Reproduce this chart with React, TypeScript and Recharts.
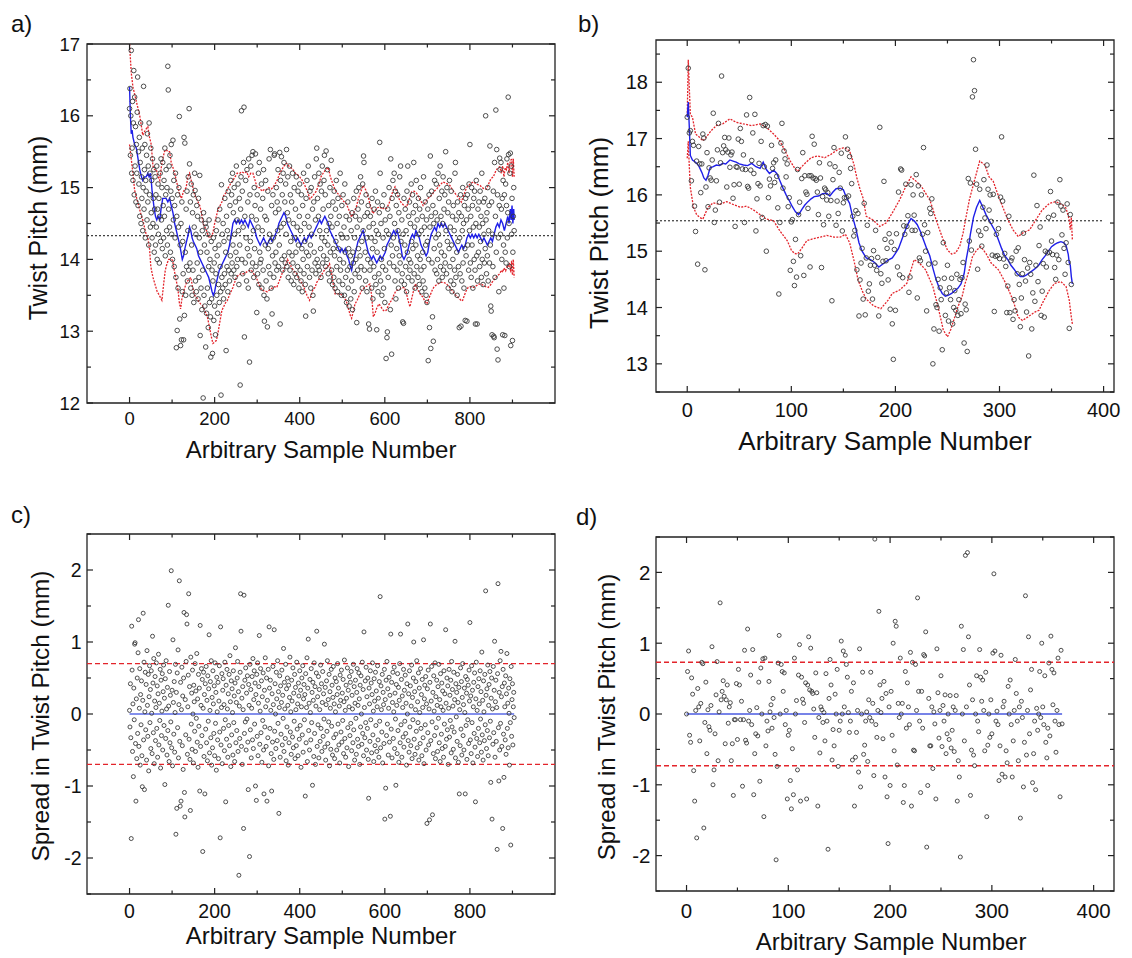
import React from "react";
import {
  ComposedChart,
  Scatter,
  Line,
  XAxis,
  YAxis,
  ReferenceLine,
  ReferenceArea,
} from "recharts";

const FONT = '"Liberation Sans", Arial, Helvetica, sans-serif';
const RED = "#e3242b";
const BLUE = "#1f1fe8";

// ---------- a) twist pitch, long run (one value per sample)
const aPitch = [
  16.1, 16.38, 15.45, 16.0, 16.91, 15.2, 15.55, 16.2, 15.1, 15.9, 16.63, 14.9, 16.26, 15.3, 15.85, 14.8, 15.6, 15.2, 16.05, 16.54,
  14.75, 15.5, 15.05, 15.7, 14.6, 15.35, 15.9, 14.5, 15.15, 14.85, 15.55, 14.4, 15.0, 16.41, 14.7, 15.25, 15.6, 14.3, 15.1, 14.95,
  15.45, 14.55, 15.75, 14.8, 15.3, 14.2, 15.9, 14.9, 15.2, 14.45, 15.55, 14.65, 15.1, 14.3, 15.4, 14.5, 14.85, 15.25, 14.1, 14.7,
  15.15, 14.2, 14.9, 14.45, 15.3, 14.0, 14.7, 15.05, 14.35, 14.85, 13.95, 14.6, 15.2, 14.25, 15.4, 14.55, 15.0, 14.15, 15.35, 14.75,
  14.3, 15.1, 14.6, 15.55, 14.05, 14.9, 15.25, 14.4, 15.0, 14.2, 16.69, 16.36, 14.7, 15.3, 14.45, 15.45, 14.1, 14.95, 15.6, 14.35,
  14.85, 14.0, 15.66, 14.55, 15.1, 13.9, 14.75, 14.3, 15.2, 13.75, 12.77, 14.6, 13.01, 14.9, 13.6, 14.45, 15.0, 15.99, 13.17, 14.2,
  12.8, 14.5, 12.88, 14.8, 13.55, 14.25, 13.8, 12.88, 15.7, 13.22, 15.62, 14.1, 13.5, 14.7, 13.9, 14.95, 13.7, 14.4, 15.15, 13.85,
  16.1, 15.33, 13.95, 14.8, 13.6, 15.05, 14.2, 13.5, 14.65, 13.85, 14.9, 13.4, 14.45, 15.2, 14.96, 13.7, 14.35, 13.55, 14.75, 13.95,
  14.6, 13.45, 14.85, 13.75, 14.3, 15.17, 12.94, 14.1, 13.6, 14.55, 13.3, 14.4, 13.85, 12.07, 14.65, 13.5, 14.2, 13.35, 14.5, 12.78,
  14.45, 13.25, 14.1, 13.6, 14.35, 13.05, 13.9, 14.55, 13.4, 14.0, 13.2, 12.64, 14.25, 13.45, 13.85, 12.69, 13.7, 14.3, 13.15, 13.95,
  13.35, 14.15, 12.95, 13.8, 14.4, 13.5, 14.05, 13.25, 14.55, 13.65, 14.2, 13.4, 14.7, 13.9, 13.55, 12.11, 15.04, 13.75, 14.35, 13.6,
  14.5, 13.45, 14.25, 13.8, 14.85, 13.65, 14.1, 12.73, 14.6, 13.9, 14.4, 13.55, 14.95, 13.85, 14.3, 13.7, 14.75, 14.05, 15.1, 13.8,
  14.9, 13.95, 15.2, 14.2, 14.65, 13.85, 15.0, 14.35, 13.75, 14.8, 14.1, 15.3, 13.9, 14.55, 14.0, 15.05, 14.4, 13.65, 14.85, 14.2,
  12.25, 14.7, 15.15, 16.07, 14.0, 14.95, 13.8, 14.45, 15.35, 16.12, 12.92, 14.6, 13.95, 15.1, 14.3, 13.7, 15.25, 14.15, 14.8, 13.6,
  15.4, 14.05, 12.57, 14.9, 14.25, 15.3, 13.85, 14.6, 15.45, 13.95, 15.5, 14.4, 13.75, 15.0, 14.15, 14.75, 15.47, 13.9, 14.55, 13.26,
  14.9, 13.8, 14.45, 15.2, 13.65, 15.35, 14.1, 13.95, 14.7, 14.0, 15.05, 13.6, 14.4, 14.85, 13.85, 15.25, 13.5, 13.14, 14.6, 14.2,
  15.1, 13.7, 14.55, 13.45, 13.06, 14.95, 14.15, 13.9, 15.4, 14.35, 13.8, 15.53, 14.25, 13.6, 14.75, 13.24, 14.05, 14.9, 14.3, 13.75,
  15.45, 15.47, 13.95, 14.65, 14.1, 15.0, 13.85, 14.8, 14.4, 15.25, 13.9, 14.7, 14.2, 15.49, 13.1, 15.1, 14.45, 15.43, 14.0, 14.9,
  13.85, 15.2, 14.5, 15.35, 14.05, 14.8, 13.95, 15.05, 14.35, 15.53, 13.9, 14.65, 15.15, 13.75, 14.55, 14.1, 15.3, 13.85, 14.9, 14.25,
  13.7, 14.8, 14.05, 15.2, 13.95, 14.5, 13.65, 15.0, 14.3, 13.8, 14.7, 14.1, 15.15, 13.75, 14.45, 13.9, 14.95, 14.2, 13.6, 14.6,
  15.05, 13.85, 14.4, 13.7, 14.9, 14.15, 13.55, 14.75, 14.0, 15.2, 13.8, 14.5, 14.25, 13.65, 13.21, 14.85, 14.1, 15.1, 13.9, 14.6,
  15.3, 14.05, 14.45, 13.75, 14.95, 14.2, 13.6, 15.0, 14.35, 13.85, 14.7, 13.5, 13.28, 14.8, 14.1, 15.15, 13.95, 14.55, 13.8, 15.4,
  15.55, 14.0, 14.85, 13.9, 14.6, 15.2, 13.85, 14.4, 15.05, 14.15, 13.75, 14.95, 14.3, 15.3, 13.95, 14.7, 14.05, 15.1, 15.45, 14.25,
  14.9, 13.9, 15.51, 14.4, 14.0, 15.25, 14.2, 13.8, 14.75, 14.5, 13.7, 15.0, 14.1, 14.6, 15.38, 13.85, 14.45, 13.65, 14.8, 14.15,
  13.75, 14.95, 14.05, 13.6, 14.7, 14.25, 15.1, 13.9, 14.5, 13.55, 14.85, 14.15, 13.7, 14.6, 14.0, 15.2, 13.85, 14.35, 13.5, 14.75,
  14.3, 13.65, 14.9, 13.95, 14.45, 13.5, 15.05, 14.1, 13.75, 14.6, 13.4, 14.3, 13.85, 14.8, 13.6, 14.15, 13.35, 14.55, 13.9, 14.05,
  13.45, 14.4, 13.7, 14.65, 13.3, 14.1, 13.95, 14.85, 13.55, 14.3, 13.8, 14.6, 14.0, 14.95, 13.12, 14.45, 13.85, 14.7, 14.15, 15.0,
  13.75, 14.55, 14.05, 15.15, 13.9, 14.8, 14.25, 13.6, 15.05, 14.4, 15.44, 15.35, 13.85, 14.6, 14.1, 13.7, 14.9, 14.3, 13.55, 14.65,
  14.0, 14.75, 13.1, 14.45, 13.03, 13.85, 14.6, 13.95, 14.3, 13.6, 14.85, 14.15, 13.45, 14.5, 13.9, 14.7, 13.75, 14.25, 14.95, 13.65,
  14.4, 13.02, 14.1, 14.8, 13.55, 14.35, 13.8, 14.65, 15.63, 15.2, 13.7, 14.5, 14.0, 13.5, 14.75, 13.9, 14.3, 13.6, 14.9, 14.15,
  13.4, 14.55, 13.85, 12.62, 14.4, 12.91, 12.99, 14.7, 13.75, 14.35, 15.0, 13.95, 14.6, 13.3, 15.4, 14.2, 12.68, 14.85, 14.05, 15.1,
  14.3, 13.9, 15.2, 14.5, 13.7, 14.95, 13.45, 14.75, 14.15, 13.85, 14.9, 14.4, 13.6, 14.65, 14.05, 15.15, 13.95, 15.3, 14.25, 13.7,
  14.55, 13.8, 13.13, 14.35, 13.11, 14.85, 13.65, 14.2, 14.7, 13.9, 14.4, 13.55, 14.95, 14.1, 15.3, 13.75, 14.6, 14.0, 14.8, 13.85,
  14.5, 13.95, 15.05, 14.25, 13.7, 14.9, 14.15, 14.65, 15.35, 13.8, 14.45, 13.6, 14.75, 14.2, 15.1, 13.9, 14.55, 14.05, 13.75, 14.85,
  14.35, 13.65, 14.7, 14.0, 15.0, 13.85, 14.4, 13.55, 14.6, 14.1, 13.7, 15.15, 13.9, 14.45, 13.6, 14.8, 14.2, 13.5, 14.55, 13.4,
  14.25, 14.7, 12.59, 14.0, 14.9, 13.05, 14.45, 15.44, 12.76, 14.6, 14.95, 13.95, 13.2, 14.75, 12.86, 14.5, 14.15, 15.1, 13.85, 14.65,
  14.3, 15.05, 13.8, 14.55, 14.0, 15.2, 14.35, 13.7, 14.85, 14.2, 15.3, 13.9, 14.6, 14.1, 14.95, 13.75, 14.5, 15.15, 13.85, 14.7,
  14.05, 14.9, 13.95, 15.5, 14.4, 13.8, 15.0, 14.25, 14.65, 13.6, 14.8, 14.15, 15.1, 13.9, 14.45, 13.7, 14.95, 14.2, 13.55, 14.6,
  14.0, 14.75, 13.65, 14.4, 13.85, 15.2, 15.35, 13.75, 14.55, 14.1, 13.5, 14.8, 14.25, 13.9, 14.65, 13.05, 14.3, 13.8, 14.9, 13.07,
  14.6, 13.7, 14.4, 15.0, 13.95, 14.5, 13.6, 14.75, 14.15, 13.15, 14.85, 14.05, 14.55, 13.14, 14.9, 14.2, 14.7, 13.85, 15.05, 14.4,
  15.6, 13.95, 14.6, 13.75, 15.0, 14.2, 14.75, 13.6, 14.45, 14.85, 14.0, 14.95, 13.85, 13.1, 14.5, 15.1, 14.05, 13.1, 13.7, 14.7,
  14.1, 14.8, 14.45, 13.9, 14.95, 14.25, 14.6, 13.75, 15.2, 14.0, 14.5, 13.65, 14.8, 14.35, 13.95, 14.85, 14.15, 16.0, 14.55, 13.8,
  14.65, 14.05, 15.0, 13.7, 14.4, 14.75, 13.95, 15.58, 14.2, 13.35, 13.28, 14.8, 12.95, 14.35, 13.9, 14.95, 12.93, 12.91, 15.35, 13.75,
  14.6, 16.08, 14.1, 15.53, 12.75, 14.9, 12.6, 14.3, 13.55, 14.75, 15.41, 15.25, 14.35, 15.35, 14.7, 14.0, 14.85, 12.95, 15.1, 14.2,
  13.6, 14.9, 12.94, 14.1, 15.05, 13.95, 14.75, 15.4, 14.3, 14.65, 16.26, 15.46, 14.5, 13.9, 15.2, 15.48, 12.8, 15.3, 14.35, 14.85,
  12.87, 14.1, 14.6, 15.0, 14.4,
];

// moving average and the band around it, [sample, pitch]
const aAverage: [number, number][] = [
  [0, 16.4], [2, 16.0], [4, 15.75], [6, 15.8], [8, 15.7], [12, 15.6], [16, 15.55], [20, 15.4], [24, 15.25], [28, 15.15],
  [31, 15.1], [35, 15.15], [39, 15.15], [43, 15.2], [46, 15.15], [49, 15.2], [51, 15.1], [53, 14.95], [55, 14.85], [58, 14.7],
  [61, 14.6], [64, 14.55], [67, 14.6], [71, 14.55], [74, 14.7], [78, 14.85], [82, 14.85], [86, 14.85], [90, 14.8], [94, 14.85],
  [98, 14.75], [102, 14.65], [106, 14.5], [110, 14.4], [114, 14.3], [118, 14.2], [121, 14.1], [124, 14.0], [127, 14.05], [130, 14.15],
  [134, 14.25], [138, 14.35], [141, 14.45], [144, 14.4], [147, 14.3], [150, 14.25], [154, 14.2], [158, 14.15], [162, 14.05], [166, 14.0],
  [170, 13.95], [174, 13.9], [178, 13.85], [182, 13.8], [186, 13.75], [190, 13.65], [194, 13.55], [197, 13.5], [200, 13.55], [203, 13.65],
  [207, 13.75], [211, 13.85], [215, 13.9], [219, 13.95], [223, 14.0], [227, 14.05], [231, 14.1], [235, 14.2], [239, 14.35], [243, 14.5],
  [247, 14.55], [251, 14.5], [255, 14.55], [259, 14.5], [263, 14.55], [267, 14.5], [271, 14.55], [275, 14.5], [279, 14.45], [283, 14.55],
  [287, 14.5], [291, 14.45], [295, 14.4], [299, 14.3], [303, 14.25], [307, 14.2], [311, 14.25], [315, 14.3], [319, 14.25], [323, 14.2],
  [327, 14.25], [331, 14.3], [335, 14.25], [339, 14.3], [343, 14.35], [347, 14.4], [351, 14.5], [355, 14.55], [359, 14.6], [363, 14.65],
  [367, 14.6], [371, 14.5], [375, 14.45], [379, 14.4], [383, 14.35], [387, 14.3], [391, 14.25], [395, 14.3], [399, 14.25], [403, 14.2],
  [407, 14.25], [411, 14.3], [415, 14.25], [419, 14.3], [423, 14.35], [427, 14.3], [431, 14.35], [435, 14.4], [439, 14.45], [443, 14.5],
  [447, 14.55], [451, 14.5], [455, 14.55], [459, 14.6], [463, 14.55], [467, 14.5], [471, 14.4], [475, 14.35], [479, 14.3], [483, 14.25],
  [487, 14.2], [491, 14.15], [495, 14.1], [499, 14.15], [503, 14.1], [507, 14.15], [511, 14.05], [515, 14.0], [519, 13.9], [522, 13.85],
  [525, 13.95], [529, 14.05], [533, 14.15], [537, 14.25], [541, 14.3], [545, 14.35], [549, 14.4], [553, 14.3], [557, 14.2], [561, 14.1],
  [565, 14.05], [569, 14.0], [573, 14.05], [577, 14.0], [581, 13.95], [585, 14.0], [589, 14.05], [593, 14.0], [597, 14.05], [601, 14.1],
  [605, 14.2], [609, 14.25], [613, 14.3], [617, 14.35], [621, 14.4], [625, 14.35], [629, 14.4], [633, 14.3], [637, 14.2], [641, 14.05],
  [645, 14.0], [649, 14.05], [653, 14.1], [657, 14.2], [661, 14.3], [665, 14.35], [669, 14.3], [673, 14.4], [677, 14.35], [681, 14.3],
  [685, 14.2], [689, 14.15], [693, 14.1], [697, 14.05], [701, 14.1], [705, 14.25], [709, 14.35], [713, 14.4], [717, 14.45], [721, 14.4],
  [725, 14.5], [729, 14.45], [733, 14.5], [737, 14.45], [741, 14.5], [745, 14.45], [749, 14.4], [753, 14.35], [757, 14.3], [761, 14.25],
  [765, 14.2], [769, 14.15], [773, 14.1], [777, 14.15], [781, 14.2], [785, 14.15], [789, 14.2], [793, 14.3], [797, 14.35], [801, 14.3],
  [805, 14.35], [809, 14.3], [813, 14.35], [817, 14.3], [821, 14.35], [825, 14.3], [829, 14.25], [833, 14.3], [837, 14.25], [841, 14.2],
  [845, 14.25], [849, 14.3], [853, 14.25], [857, 14.35], [861, 14.45], [865, 14.5], [869, 14.45], [873, 14.55], [877, 14.5], [881, 14.4],
  [885, 14.5], [889, 14.6], [892, 14.5], [895, 14.7], [897, 14.55], [899, 14.75], [901, 14.5], [903, 14.7], [904, 14.55],
];

const aUpper: [number, number][] = [
  [0, 17.0], [4, 16.6], [8, 16.4], [12, 16.3], [16, 16.2], [20, 16.1], [24, 16.0], [28, 15.85], [31, 15.73], [37, 15.8],
  [43, 15.85], [47, 15.7], [51, 15.6], [55, 15.3], [59, 15.25], [63, 15.25], [67, 15.15], [71, 15.1], [75, 15.3], [78, 15.4],
  [82, 15.5], [86, 15.53], [90, 15.5], [94, 15.5], [98, 15.35], [102, 15.28], [106, 15.2], [110, 15.1], [114, 15.0], [118, 14.9],
  [122, 14.85], [127, 14.95], [133, 15.0], [137, 15.15], [141, 15.2], [145, 15.1], [149, 15.0], [153, 14.9], [157, 14.85], [161, 14.8],
  [165, 14.75], [169, 14.65], [173, 14.5], [177, 14.45], [181, 14.4], [185, 14.33], [188, 14.3], [192, 14.32], [196, 14.37], [200, 14.5],
  [204, 14.6], [208, 14.7], [212, 14.74], [217, 14.8], [222, 14.9], [227, 14.93], [232, 15.0], [237, 15.05], [243, 15.1], [248, 15.15],
  [253, 15.2], [259, 15.2], [264, 15.22], [270, 15.2], [275, 15.22], [280, 15.15], [285, 15.2], [290, 15.2], [295, 15.1], [300, 15.0],
  [306, 15.0], [311, 14.95], [316, 14.97], [322, 14.97], [327, 15.0], [333, 14.98], [337, 15.0], [342, 15.05], [347, 15.1], [353, 15.2],
  [358, 15.25], [363, 15.3], [369, 15.34], [374, 15.3], [379, 15.28], [384, 15.25], [390, 15.2], [395, 15.18], [400, 15.15], [406, 15.1],
  [412, 15.03], [418, 14.95], [424, 14.84], [430, 14.88], [435, 14.92], [439, 14.95], [445, 15.05], [450, 15.15], [455, 15.2], [461, 15.25],
  [467, 15.28], [472, 15.15], [478, 15.05], [483, 14.97], [489, 14.92], [494, 14.89], [500, 14.83], [505, 14.8], [510, 14.77], [516, 14.68],
  [522, 14.59], [527, 14.65], [533, 14.73], [538, 14.85], [544, 14.95], [549, 15.03], [555, 14.97], [561, 14.87], [566, 14.75], [572, 14.64],
  [577, 14.68], [583, 14.72], [588, 14.73], [594, 14.7], [599, 14.72], [604, 14.71], [610, 14.78], [615, 14.88], [620, 14.97], [624, 15.01],
  [629, 14.92], [635, 14.82], [640, 14.78], [645, 14.75], [651, 14.73], [657, 14.83], [663, 14.94], [669, 14.95], [675, 14.92], [681, 14.85],
  [686, 14.8], [690, 14.75], [696, 14.8], [701, 14.85], [706, 14.87], [711, 14.9], [716, 14.95], [722, 14.98], [727, 15.02], [732, 15.05],
  [737, 15.08], [743, 15.06], [748, 15.05], [753, 15.03], [758, 14.98], [764, 14.93], [769, 14.89], [775, 14.85], [780, 14.8], [786, 14.9],
  [792, 15.0], [797, 15.03], [803, 15.06], [808, 15.08], [813, 15.06], [819, 15.04], [824, 15.03], [829, 15.0], [834, 14.98], [839, 14.98],
  [844, 15.05], [849, 15.12], [855, 15.15], [860, 15.22], [865, 15.27], [870, 15.29], [874, 15.2], [877, 15.3], [880, 15.15], [883, 15.28],
  [886, 15.25], [889, 15.35], [892, 15.2], [895, 15.38], [898, 15.39], [900, 15.15], [902, 15.4], [904, 15.15],
];

const aLower: [number, number][] = [
  [0, 15.6], [4, 15.4], [8, 15.2], [12, 14.96], [16, 14.87], [20, 14.78], [24, 14.69], [28, 14.6], [31, 14.55], [35, 14.45],
  [39, 14.35], [43, 14.3], [47, 14.15], [50, 13.9], [55, 13.75], [60, 13.65], [65, 13.55], [70, 13.5], [76, 13.43], [80, 13.65],
  [84, 13.85], [88, 13.94], [92, 14.0], [96, 14.0], [101, 13.99], [105, 13.85], [110, 13.7], [114, 13.57], [117, 13.4], [120, 13.31],
  [123, 13.45], [127, 13.55], [130, 13.61], [134, 13.68], [139, 13.72], [144, 13.75], [148, 13.62], [153, 13.5], [157, 13.48], [162, 13.42],
  [167, 13.38], [171, 13.36], [176, 13.3], [183, 13.2], [188, 13.05], [192, 12.93], [196, 12.83], [200, 12.85], [204, 12.87], [208, 12.98],
  [212, 13.12], [217, 13.29], [222, 13.35], [226, 13.4], [230, 13.43], [236, 13.52], [243, 13.61], [247, 13.68], [251, 13.75], [256, 13.78],
  [262, 13.8], [268, 13.8], [274, 13.82], [280, 13.84], [286, 13.85], [292, 13.8], [298, 13.75], [304, 13.65], [311, 13.57], [317, 13.56],
  [324, 13.55], [330, 13.58], [335, 13.6], [341, 13.62], [346, 13.61], [352, 13.7], [357, 13.78], [362, 13.85], [367, 13.93], [371, 14.0],
  [376, 13.95], [380, 13.9], [385, 13.85], [389, 13.82], [393, 13.8], [399, 13.72], [406, 13.66], [412, 13.58], [417, 13.5], [423, 13.43],
  [427, 13.5], [431, 13.58], [436, 13.61], [440, 13.68], [445, 13.72], [449, 13.77], [453, 13.8], [458, 13.85], [462, 13.88], [466, 13.9],
  [470, 13.94], [475, 13.8], [479, 13.65], [483, 13.52], [490, 13.52], [496, 13.52], [502, 13.48], [509, 13.43], [515, 13.3], [519, 13.22],
  [522, 13.18], [526, 13.28], [530, 13.38], [535, 13.43], [540, 13.5], [546, 13.57], [552, 13.61], [558, 13.63], [565, 13.66], [569, 13.5],
  [573, 13.2], [577, 13.25], [581, 13.32], [586, 13.38], [590, 13.35], [595, 13.3], [599, 13.28], [603, 13.29], [608, 13.35], [612, 13.4],
  [616, 13.43], [621, 13.5], [625, 13.55], [629, 13.57], [634, 13.58], [640, 13.6], [646, 13.61], [650, 13.55], [655, 13.42], [659, 13.34],
  [663, 13.45], [667, 13.55], [672, 13.66], [676, 13.6], [680, 13.55], [685, 13.5], [689, 13.48], [694, 13.42], [699, 13.38], [703, 13.45],
  [708, 13.52], [712, 13.58], [715, 13.61], [720, 13.64], [725, 13.66], [732, 13.68], [738, 13.68], [745, 13.66], [751, 13.62], [758, 13.57],
  [764, 13.52], [770, 13.48], [776, 13.45], [780, 13.42], [783, 13.43], [787, 13.5], [791, 13.56], [796, 13.61], [801, 13.62], [805, 13.61],
  [809, 13.61], [814, 13.63], [820, 13.65], [826, 13.66], [831, 13.64], [837, 13.62], [843, 13.61], [848, 13.64], [852, 13.68], [857, 13.72],
  [861, 13.75], [866, 13.78], [870, 13.8], [874, 13.85], [877, 13.82], [880, 13.88], [884, 13.84], [887, 13.9], [890, 13.89], [893, 13.95],
  [896, 13.82], [898, 13.98], [900, 13.78], [902, 14.0], [904, 13.75],
];

const aMean = 14.33;
const aXTicks = [0, 100, 200, 300, 400, 500, 600, 700, 800, 900];
const aYTicks = [12, 12.5, 13, 13.5, 14, 14.5, 15, 15.5, 16, 16.5, 17];

// ---------- b) twist pitch, short run
const bPitch = [
  17.38, 18.25, 17.1, 17.14, 16.25, 16.95, 16.88, 15.8, 15.35, 16.6, 14.77, 16.86, 16.55, 16.04, 16.55, 17.08, 17.01, 14.67, 16.14, 16.75,
  15.79, 16.48, 16.3, 16.26, 16.62, 17.45, 15.51, 15.73, 16.25, 16.8, 17.27, 15.87, 16.57, 18.11, 16.75, 16.87, 17.02, 16.8, 16.14, 16.76,
  17.01, 16.49, 16.71, 16.76, 15.94, 16.18, 15.44, 16.5, 16.49, 16.99, 16.19, 17.18, 16.95, 16.46, 16.71, 15.51, 16.45, 17.42, 16.15, 16.12,
  17.73, 16.44, 16.61, 17.1, 16.38, 17.43, 15.36, 15.93, 16.2, 16.56, 16.16, 16.95, 15.6, 17.23, 16.5, 17.25, 15.0, 17.22, 15.95, 16.28,
  16.16, 16.88, 16.47, 16.57, 16.22, 16.62, 16.33, 15.77, 14.24, 15.51, 16.92, 17.27, 16.12, 16.78, 16.64, 16.32, 16.55, 15.79, 15.95, 14.66,
  15.52, 15.56, 14.82, 14.39, 15.21, 14.54, 16.45, 15.65, 15.87, 14.92, 16.29, 16.75, 14.57, 16.34, 16.05, 16.01, 15.76, 16.34, 14.72, 16.34,
  17.04, 16.3, 16.9, 16.29, 16.26, 16.05, 15.65, 16.57, 16.3, 14.71, 15.97, 15.47, 16.12, 16.09, 15.91, 16.04, 15.62, 16.55, 15.9, 14.12,
  16.27, 16.84, 16.5, 15.46, 15.89, 15.67, 16.4, 16.12, 16.74, 15.36, 15.86, 15.95, 17.03, 15.95, 16.81, 15.98, 16.68, 16.47, 16.2, 15.62,
  15.27, 15.37, 15.72, 14.67, 15.67, 13.85, 14.49, 14.79, 15.05, 14.15, 15.85, 13.87, 14.88, 15.46, 14.29, 14.42, 14.75, 14.87, 14.15, 15.01,
  14.75, 15.37, 14.66, 14.89, 13.85, 17.2, 14.6, 14.43, 14.82, 16.24, 15.21, 14.83, 15.05, 14.49, 15.31, 13.97, 15.16, 13.71, 13.08, 15.03,
  13.95, 15.31, 14.72, 16.05, 14.58, 16.46, 16.44, 14.53, 15.45, 15.3, 16.19, 15.44, 15.63, 14.27, 14.54, 16.18, 15.37, 16.0, 15.64, 15.37,
  16.36, 14.17, 16.16, 14.88, 14.83, 16.0, 15.3, 16.84, 15.47, 15.0, 13.94, 15.33, 14.77, 15.76, 15.67, 15.93, 13.0, 13.62, 14.79, 14.05,
  14.0, 14.5, 13.58, 14.35, 14.14, 13.25, 15.15, 14.52, 13.86, 14.26, 14.75, 13.76, 14.35, 14.14, 14.52, 13.71, 14.0, 14.3, 13.95, 14.59,
  13.86, 14.14, 14.5, 13.89, 14.53, 14.8, 13.37, 14.06, 13.96, 13.22, 16.29, 15.18, 16.21, 15.02, 17.74, 18.4, 17.85, 16.81, 16.19, 14.68,
  15.36, 16.1, 15.28, 15.09, 15.78, 16.27, 15.59, 15.4, 16.53, 16.1, 15.73, 16.0, 15.53, 14.93, 16.01, 13.93, 14.91, 15.3, 14.92, 15.4,
  14.87, 15.96, 17.03, 15.89, 14.86, 14.96, 14.73, 13.91, 14.38, 15.62, 13.91, 14.83, 14.88, 13.79, 14.14, 13.94, 15.0, 14.6, 15.06, 14.41,
  13.66, 14.17, 14.6, 15.32, 14.85, 14.47, 13.92, 14.7, 13.14, 14.8, 14.59, 13.62, 14.26, 16.35, 14.11, 14.75, 15.81, 14.46, 15.1, 15.43,
  13.86, 14.29, 14.78, 13.83, 15.0, 14.72, 14.97, 15.6, 14.98, 16.06, 15.18, 14.94, 15.64, 14.71, 14.5, 14.93, 15.87, 14.85, 16.27, 15.8,
  15.29, 15.73, 15.05, 14.59, 15.15, 15.84, 14.8, 13.63, 15.65, 14.41,
];

const bAverage: [number, number][] = [
  [0, 17.38], [1, 17.65], [2, 17.2], [3, 16.7], [5, 16.62], [8, 16.58], [11, 16.52], [14, 16.4], [16, 16.3], [18, 16.26],
  [20, 16.35], [22, 16.48], [25, 16.5], [28, 16.53], [31, 16.52], [34, 16.56], [37, 16.55], [41, 16.62], [44, 16.6], [47, 16.58],
  [50, 16.55], [54, 16.53], [58, 16.52], [62, 16.56], [66, 16.5], [70, 16.47], [73, 16.58], [76, 16.45], [79, 16.38], [83, 16.44],
  [86, 16.38], [89, 16.25], [92, 16.12], [95, 16.0], [98, 15.9], [101, 15.79], [104, 15.7], [107, 15.65], [110, 15.74], [113, 15.82],
  [116, 15.88], [119, 15.93], [122, 15.97], [126, 15.98], [130, 16.02], [134, 16.03], [137, 15.98], [140, 16.05], [143, 16.11], [147, 16.12],
  [150, 16.09], [153, 15.95], [156, 15.85], [159, 15.6], [162, 15.4], [165, 15.15], [168, 15.0], [172, 14.88], [176, 14.85], [180, 14.8],
  [184, 14.72], [187, 14.76], [190, 14.8], [193, 14.84], [197, 14.88], [200, 14.96], [203, 15.05], [206, 15.2], [209, 15.35], [212, 15.48],
  [215, 15.58], [218, 15.54], [221, 15.47], [224, 15.35], [227, 15.2], [230, 15.05], [233, 14.92], [236, 14.7], [239, 14.5], [242, 14.35],
  [245, 14.25], [248, 14.2], [251, 14.22], [254, 14.25], [257, 14.3], [260, 14.34], [263, 14.42], [266, 14.6], [268, 14.85], [270, 15.05],
  [272, 15.3], [275, 15.6], [278, 15.78], [281, 15.9], [284, 15.78], [287, 15.65], [290, 15.55], [293, 15.45], [296, 15.35], [299, 15.2],
  [302, 15.05], [305, 14.92], [308, 14.85], [311, 14.75], [314, 14.68], [317, 14.6], [320, 14.55], [323, 14.55], [326, 14.58], [329, 14.62],
  [332, 14.66], [335, 14.7], [338, 14.76], [341, 14.85], [344, 14.92], [347, 15.0], [350, 15.08], [353, 15.12], [356, 15.15], [359, 15.17],
  [362, 15.15], [364, 15.1], [366, 14.95], [367, 14.8], [368, 14.75], [369, 14.55], [370, 14.42],
];

const bUpper: [number, number][] = [
  [0, 17.4], [1, 18.4], [2, 17.9], [3, 17.43], [5, 17.38], [8, 17.08], [12, 17.02], [15, 16.96], [18, 17.02], [23, 17.14],
  [28, 17.23], [34, 17.26], [41, 17.35], [47, 17.29], [54, 17.26], [62, 17.23], [70, 17.26], [76, 17.2], [83, 17.08], [89, 16.96],
  [94, 16.78], [99, 16.6], [103, 16.48], [106, 16.42], [109, 16.48], [112, 16.54], [119, 16.66], [125, 16.69], [132, 16.66], [138, 16.72],
  [145, 16.81], [151, 16.84], [156, 16.78], [160, 16.55], [163, 16.3], [166, 16.1], [169, 15.94], [172, 15.62], [178, 15.56], [185, 15.44],
  [191, 15.5], [198, 15.71], [204, 15.91], [210, 16.15], [215, 16.32], [220, 16.24], [225, 16.15], [229, 16.03], [233, 15.91], [236, 15.75],
  [239, 15.56], [243, 15.35], [246, 15.2], [250, 15.02], [254, 14.95], [258, 14.97], [262, 15.1], [265, 15.32], [268, 15.62], [271, 15.91],
  [276, 16.26], [281, 16.6], [286, 16.53], [290, 16.32], [294, 16.24], [298, 16.03], [303, 15.79], [308, 15.56], [313, 15.38], [318, 15.26],
  [322, 15.32], [329, 15.38], [335, 15.56], [341, 15.73], [348, 15.85], [354, 15.88], [361, 15.82], [364, 15.76], [367, 15.56], [368, 15.38],
  [369, 15.6], [370, 15.2],
];

const bLower: [number, number][] = [
  [0, 16.65], [1, 16.95], [2, 16.5], [3, 16.13], [6, 15.78], [9, 15.65], [12, 15.6], [15, 15.57], [20, 15.78], [25, 15.86],
  [31, 15.83], [38, 15.88], [44, 15.83], [51, 15.78], [57, 15.8], [63, 15.74], [70, 15.65], [76, 15.57], [83, 15.54], [89, 15.36],
  [96, 15.19], [100, 15.02], [103, 14.96], [106, 14.95], [110, 15.05], [115, 15.19], [121, 15.22], [128, 15.25], [134, 15.28], [141, 15.25],
  [147, 15.25], [152, 15.3], [156, 15.15], [160, 14.85], [164, 14.5], [168, 14.3], [172, 14.15], [179, 14.03], [186, 13.98], [193, 14.13],
  [197, 14.25], [204, 14.31], [211, 14.43], [215, 14.67], [218, 14.85], [223, 14.79], [229, 14.67], [236, 14.37], [241, 14.01], [246, 13.6],
  [250, 13.48], [253, 13.6], [257, 13.83], [260, 14.01], [264, 14.19], [267, 14.43], [271, 14.67], [274, 14.9], [278, 15.02], [282, 15.08],
  [287, 14.96], [292, 14.79], [299, 14.67], [306, 14.43], [313, 14.13], [318, 13.83], [322, 13.77], [327, 13.83], [334, 13.92], [338, 13.95],
  [341, 14.07], [348, 14.31], [353, 14.43], [359, 14.46], [364, 14.37], [367, 14.13], [369, 13.83], [370, 13.71],
];

const bMean = 15.54;
const bXTicks = [0, 50, 100, 150, 200, 250, 300, 350, 400];
const bYTicks = [12.5, 13, 13.5, 14, 14.5, 15, 15.5, 16, 16.5, 17, 17.5, 18, 18.5];

// ---------- c) spread about the moving average, long run
const cSpread = [
  0.05, -0.18, 0.42, -0.33, -1.73, 1.22, 0.61, -0.52, 0.14, -0.87, 0.36, -0.08, 0.97, 0.99, -0.41, -1.21, 0.21, -0.62, 0.5, -0.27,
  0.85, 1.31, -0.45, 0.08, 0.63, -0.71, 0.27, -0.15, 0.46, -0.58, -1.01, 0.19, 1.4, -0.36, 0.72, -1.05, 0.03, 0.58, -0.22, 0.41,
  -0.64, 0.88, 0.12, -0.31, 0.55, -0.79, 0.24, 0.67, -0.12, 0.34, -0.48, 0.6, 0.01, -0.55, 1.08, 0.43, -0.26, 0.77, -0.69, 0.18,
  0.52, -0.37, 0.09, 0.71, -0.2, 0.39, -0.6, 0.28, 0.83, -0.43, 0.15, -0.09, 0.62, -0.75, 0.47, -0.3, 0.04, 0.56, -0.5, 0.31,
  0.68, -0.16, 0.22, -0.98, 0.49, -0.34, 0.74, 0.07, -0.57, 0.37, -0.23, 1.51, 0.11, -0.66, 0.59, -0.4, 0.26, -0.11, 1.99, -0.47,
  0.33, -0.72, 1.03, 0.16, -0.28, 0.45, -0.53, 0.02, 0.69, -1.67, 0.3, -1.31, 0.57, -0.19, 0.89, -0.61, 0.13, 1.85, -0.38, -1.28,
  0.44, -1.21, 0.06, 0.65, -0.44, 0.25, -0.77, 0.5, 1.41, -1.09, -1.43, 0.2, -0.29, 0.73, 1.38, 1.25, -0.56, 0.1, 0.54, 1.67,
  -0.35, 0.38, -0.63, -1.34, 0.79, -0.14, 0.29, -0.49, 0.61, 0.0, -0.68, 0.4, 0.17, -0.24, 0.7, -0.52, 0.32, -0.06, 0.84, -0.39,
  0.21, -0.74, 0.55, -0.17, 0.36, -1.07, 1.23, -0.45, 0.12, 0.63, -0.3, 0.48, -1.91, 0.08, 0.58, -0.59, 0.27, -1.11, 0.42, -0.21,
  0.66, -0.4, 0.19, -0.65, 0.53, -0.1, 0.35, 1.1, -0.54, 0.05, 0.45, -0.33, 0.74, -0.71, 0.23, -0.47, 0.6, 0.14, -0.27, 0.39,
  -0.58, 0.71, -0.13, 0.3, -0.78, 0.51, 0.03, -0.36, 0.44, -0.62, 0.18, 0.67, -0.25, -1.72, 1.21, -0.43, 0.09, 0.56, -0.69, 0.33,
  0.49, -0.2, 0.13, -0.51, 0.72, -0.08, -1.22, 0.4, -0.35, 0.62, 0.07, -0.6, 0.28, -0.16, 0.55, -0.44, 0.81, 0.17, -0.73, 0.46,
  -0.29, 0.35, 0.02, -0.57, 0.6, -0.12, 0.25, -0.66, 0.43, 0.92, -0.4, 0.16, -0.23, 0.5, 0.73, -0.52, 0.31, -2.24, 0.11, -0.34,
  0.58, 1.67, 1.15, -0.45, 0.22, -0.7, 0.38, 0.06, -1.59, 1.65, -0.27, 0.47, -0.11, 0.64, -0.5, 0.29, -0.07, 0.53, -0.39, -1.05,
  0.41, 0.12, -1.98, 0.69, -0.22, 0.34, -0.61, 0.08, 0.52, -0.36, 0.77, -0.48, 0.2, 0.6, -0.14, 0.43, -1.0, 0.27, -1.2, 0.55,
  -0.31, 0.71, -0.58, 0.15, 0.38, 1.09, -0.42, 0.04, 0.63, -0.26, 0.46, -0.67, 0.24, -0.09, 0.57, -0.5, -1.11, 0.33, -0.18, 0.78,
  0.1, -0.45, 0.5, -1.21, 0.19, -0.33, 0.62, -0.72, 1.21, 0.36, -0.2, 0.47, 0.05, -0.55, -1.07, 0.28, -0.39, 0.66, 0.13, -0.63,
  1.17, -0.24, 0.42, 0.0, -0.48, 0.58, 0.21, -0.37, 0.74, -0.13, 0.31, -1.38, 0.09, 0.53, -0.6, 0.39, -0.28, 0.16, 0.61, -0.43,
  0.26, -0.06, 0.91, -0.52, 0.44, 0.07, -0.34, 0.69, -0.65, 0.35, -0.18, 0.5, 0.12, -0.71, 0.4, -0.4, 0.23, 0.79, -0.25, 0.03,
  -0.56, 0.47, 0.18, -0.32, 0.64, -0.47, 0.29, -0.1, 0.55, -0.62, 0.37, 0.06, -0.44, 0.72, -0.21, 0.14, -0.58, 0.43, 0.25, -0.35,
  0.6, -0.16, 0.33, -0.74, 0.1, 0.5, -0.29, 0.67, -0.53, 0.21, 0.41, -0.08, 0.27, -1.14, 0.56, -0.4, 0.09, 0.78, -0.66, 0.36,
  1.04, -0.23, 0.15, -0.5, 0.48, 0.02, -0.36, 0.63, -0.12, 0.3, -0.99, 0.44, 0.19, -0.59, 0.71, -0.27, 0.38, -0.7, 0.11, 0.57,
  1.15, -0.45, 0.24, -0.15, 0.52, -0.61, 0.34, 0.06, -0.38, 0.68, -0.2, 0.42, -0.52, 0.16, 0.59, -0.31, 0.28, -0.07, 0.97, -0.46,
  0.37, -0.64, 0.13, 0.46, -0.24, 0.74, -0.41, 0.2, -0.11, 0.55, -0.72, 0.31, 0.08, -0.49, 0.62, -0.17, 0.4, -0.57, 0.23, 0.66,
  -0.33, 0.14, -0.62, 0.5, 0.03, -0.28, 0.45, -0.5, 0.27, 0.7, -0.14, 0.36, -0.43, 0.11, -0.68, 0.54, 0.19, -0.25, 0.61, -0.39,
  0.29, -0.09, 0.48, -0.55, 0.17, 0.75, -0.34, 0.05, -0.6, 0.4, 0.22, -0.47, 0.64, -0.19, 0.33, -0.73, 0.1, 0.52, -0.3, 0.44,
  -0.13, 0.59, -0.51, 0.26, 0.07, -0.4, 0.69, -0.22, 0.38, -0.64, 0.15, 0.47, -0.06, -0.56, 0.3, 0.63, -0.35, 0.12, -0.45, 0.57,
  0.21, -0.7, 0.4, -0.18, 0.53, 0.0, -0.42, 0.72, -0.27, 0.34, -0.58, 1.14, 0.09, -0.33, 0.46, -0.12, 0.65, -0.5, 0.24, -0.2,
  0.5, -0.63, -1.17, 0.36, 0.14, -0.38, 0.6, -0.08, 0.43, -0.54, 0.27, 0.71, -0.29, 0.04, -0.66, 0.49, 0.18, -0.44, 0.58, -0.16,
  0.32, -0.52, 0.1, 0.67, -0.36, 0.22, -0.6, 0.45, -0.1, 1.63, -0.47, 0.39, 0.06, -0.25, 0.55, -0.68, 0.3, 0.13, -0.41, 0.62,
  -1.46, 0.2, -1.03, 0.47, -0.3, 0.73, -0.14, 0.35, -0.57, 0.08, 0.51, -0.39, 0.26, -1.42, 1.11, -0.21, 0.44, -0.61, 0.16, 0.58,
  -0.34, 0.03, 0.65, -0.48, 0.29, -0.07, -0.99, 0.41, 0.12, -0.55, 0.56, -0.23, 0.37, -0.67, 0.19, 0.7, -0.4, 1.11, -0.15, 0.48,
  -0.6, 0.25, 0.09, -0.32, 0.62, -0.46, 0.33, -0.1, 0.54, -0.27, 0.15, -0.71, 0.42, 0.0, 1.25, -0.37, 0.28, -0.53, 0.6, -0.18,
  0.39, -0.44, 0.11, 0.68, -0.62, 0.23, -0.08, 0.5, 1.0, -0.35, 0.31, -0.56, 0.06, 0.45, -0.24, 0.74, -0.47, 0.17, -0.12, 0.57,
  -0.64, 0.36, 0.02, -0.41, 0.63, -0.2, 0.27, -0.58, 0.48, 0.09, -0.33, 1.03, -0.69, 0.21, 0.4, -0.15, 0.52, -0.5, 0.14, -1.52,
  0.35, -0.26, 0.61, -0.43, 0.07, -1.47, 0.44, 1.25, -0.37, 0.18, 0.66, -0.11, -1.4, 0.3, -0.55, 0.53, 0.04, -0.3, 0.71, -0.62,
  0.24, -0.19, 0.47, 0.12, -0.52, 0.38, -0.06, 0.69, -0.4, 0.2, -0.66, 0.56, 0.1, -0.28, 0.43, -0.48, 0.32, 0.05, -0.6, 0.6,
  -0.14, 0.28, -0.45, 1.17, 0.15, -0.35, 0.5, -0.22, 0.39, -0.7, 0.08, 0.62, -0.32, 0.26, -0.09, 0.47, -0.54, 0.73, -0.18, 0.34,
  0.11, -0.49, 0.58, -0.25, 0.2, 1.01, -0.61, 0.42, -0.04, 0.3, -0.38, 0.55, 0.16, -0.67, 0.37, -1.11, 0.06, -0.44, 0.64, -0.21,
  0.45, -0.57, 0.23, 0.7, -0.3, 0.13, -0.5, 0.36, 0.02, -1.11, 0.52, -0.16, 0.29, -0.63, 0.48, -0.08, 0.4, -0.41, 0.61, 0.18,
  1.27, -0.36, 0.25, -0.55, 0.67, -0.12, 0.33, -0.68, 0.1, 0.44, -0.27, 0.57, -0.46, -1.22, 0.21, 0.72, -0.34, 0.05, -0.59, 0.38,
  -0.2, 0.49, 0.14, -0.4, 0.6, -0.07, 0.31, -0.53, 0.86, -0.29, 0.19, -0.64, 0.46, 0.03, -0.37, 0.55, -0.15, 1.71, 0.26, -0.48,
  0.35, -0.23, 0.68, -0.58, 0.12, 0.41, -0.33, 0.59, -0.1, -0.95, 0.22, 0.5, -1.46, 0.07, -0.42, 0.66, -0.26, 0.33, 1.01, -0.6,
  0.17, 0.47, -0.38, 0.09, -1.88, 0.56, 1.81, -0.19, -0.93, 0.3, -0.5, 0.74, -0.13, 0.87, 0.24, -0.45, 0.38, -1.59, 0.62, -0.28,
  -0.88, 0.43, 0.1, -0.36, 0.53, -0.56, 0.28, 0.84, -0.2, 0.15, -0.47, 0.36, 0.01, -0.71, 0.49, -0.12, -1.82, 0.66, -0.31, 0.2,
  0.42, -0.43, 0.1, 0.3, -0.05,
];
const cBand = 0.7;
const cYTicks = [-2.5, -2, -1.5, -1, -0.5, 0, 0.5, 1, 1.5, 2, 2.5];

// ---------- d) spread about the moving average, short run
const dSpread = [
  0.0, 0.6, 0.89, -0.3, -0.4, 0.51, 0.28, -0.8, -1.23, 0.05, -1.75, 0.36, 0.1, -0.38, 0.15, 0.73, 0.71, -1.61, -0.12, 0.45,
  -0.56, 0.06, -0.18, -0.23, 0.12, 0.95, -1.0, -0.79, -0.28, 0.27, 0.74, -0.66, 0.03, 1.57, 0.2, 0.32, 0.47, 0.25, -0.42, 0.2,
  0.41, -0.13, 0.1, 0.16, -0.66, -0.42, -1.15, -0.08, -0.08, 0.43, -0.36, 0.63, 0.41, -0.08, 0.18, -1.02, -0.08, 0.9, -0.37, -0.41,
  1.2, -0.1, 0.05, 0.55, -0.15, 0.91, -1.14, -0.56, -0.28, 0.09, -0.31, 0.45, -0.95, 0.65, 0.0, 0.78, -1.45, 0.79, -0.45, -0.1,
  -0.24, 0.46, 0.03, 0.13, -0.2, 0.22, -0.05, -0.57, -2.06, -0.74, 0.72, 1.11, 0.0, 0.7, 0.6, 0.32, 0.58, -0.15, 0.05, -1.2,
  -0.3, -0.23, -0.94, -1.34, -0.49, -1.14, 0.79, 0.0, 0.19, -0.79, 0.55, 0.98, -1.23, 0.52, 0.21, 0.15, -0.12, 0.44, -1.2, 0.41,
  1.09, 0.34, 0.93, 0.32, 0.29, 0.07, -0.33, 0.58, 0.3, -1.3, -0.05, -0.55, 0.1, 0.06, -0.12, 0.02, -0.38, 0.57, -0.1, -1.91,
  0.22, 0.77, 0.41, -0.65, -0.22, -0.45, 0.28, 0.0, 0.63, -0.74, -0.23, -0.1, 1.03, 0.0, 0.89, 0.1, 0.83, 0.7, 0.52, 0.02,
  -0.26, -0.1, 0.32, -0.65, 0.44, -1.3, -0.61, -0.26, 0.05, -0.82, 0.92, -1.03, 0.0, 0.59, -0.57, -0.44, -0.1, 0.03, -0.67, 0.2,
  -0.05, 0.59, -0.1, 0.15, -0.87, 2.47, -0.15, -0.33, 0.05, 1.45, 0.41, 0.02, 0.22, -0.35, 0.46, -0.89, 0.29, -1.17, -1.83, 0.1,
  -1.01, 0.32, -0.3, 1.0, -0.52, 1.31, 1.24, -0.72, 0.15, -0.05, 0.79, 0.0, 0.15, -1.25, -1.01, 0.6, -0.2, 0.44, 0.1, -0.15,
  0.87, -1.3, 0.73, -0.51, -0.52, 0.7, 0.05, 1.64, 0.32, -0.1, -1.11, 0.32, -0.2, 0.84, 0.82, 1.16, -1.88, -1.01, 0.22, -0.45,
  -0.45, 0.1, -0.77, 0.03, -0.14, -1.2, 0.92, 0.3, -0.34, 0.05, 0.54, -0.46, 0.12, -0.1, 0.27, -0.56, -0.28, 0.0, -0.36, 0.26,
  -0.48, -0.23, 0.1, -0.53, 0.05, 0.26, -1.23, -0.66, -0.89, -2.02, 1.24, 0.0, 0.91, -0.38, 2.24, 0.1, 2.28, 1.09, 0.41, -1.15,
  -0.51, 0.2, -0.58, -0.73, 0.0, 0.54, -0.1, -0.25, 0.91, 0.52, 0.18, 0.48, 0.05, -0.52, 0.59, -1.45, -0.44, 0.0, -0.33, 0.2,
  -0.28, 0.86, 1.98, 0.89, -0.1, 0.04, -0.15, -0.94, -0.45, 0.83, -0.85, 0.1, 0.18, -0.89, -0.52, -0.69, 0.39, 0.0, 0.48, -0.15,
  -0.89, -0.38, 0.05, 0.77, 0.29, -0.1, -0.66, 0.1, -1.47, 0.18, -0.05, -1.03, -0.4, 1.67, -0.58, 0.05, 1.09, -0.28, 0.34, 0.63,
  -0.97, -0.56, -0.1, -1.07, 0.08, -0.23, 0.0, 0.6, -0.05, 1.0, 0.1, -0.15, 0.54, -0.4, -0.62, -0.2, 0.72, -0.31, 1.1, 0.63,
  0.13, 0.58, -0.1, -0.54, 0.05, 0.79, -0.15, -1.17, 0.9, -0.14,
];
const dBand = 0.73;

const toPoints = (ys: number[]) => ys.map((y, i) => ({ x: i, y }));
const toLine = (pts: [number, number][]) => pts.map(([x, y]) => ({ x, y }));

type Frame = { l: number; r: number; t: number; b: number };

function makeXTick(f: Frame, step: number, fontSize: number, baseline: number) {
  return (props: any) => {
    const { x, payload } = props;
    const v = payload.value as number;
    const major = v % step === 0;
    const len = major ? 6 : 3.5;
    return (
      <g>
        <line x1={x} x2={x} y1={f.b} y2={f.b - len} stroke="#222" strokeWidth={1.2} />
        <line x1={x} x2={x} y1={f.t} y2={f.t + len} stroke="#222" strokeWidth={1.2} />
        {major && (
          <text x={x} y={baseline} textAnchor="middle" fontSize={fontSize} fontFamily={FONT} fill="#111">
            {v}
          </text>
        )}
      </g>
    );
  };
}

function makeYTick(f: Frame, fontSize: number, right: number, labelled: number[]) {
  return (props: any) => {
    const { y, payload } = props;
    const v = payload.value as number;
    const major = Number.isInteger(v);
    const len = major ? 6 : 4;
    return (
      <g>
        <line x1={f.l} x2={f.l + len} y1={y} y2={y} stroke="#222" strokeWidth={1.2} />
        <line x1={f.r} x2={f.r - len} y1={y} y2={y} stroke="#222" strokeWidth={1.2} />
        {major && labelled.includes(v) && (
          <text x={right} y={y + fontSize * 0.36} textAnchor="end" fontSize={fontSize} fontFamily={FONT} fill="#111">
            {v}
          </text>
        )}
      </g>
    );
  };
}

const ring = (r: number) => (props: any) =>
  <circle cx={props.cx} cy={props.cy} r={r} fill="none" stroke="#3a3a3a" strokeWidth={0.9} />;

interface PanelProps {
  left: number;
  top: number;
  width: number;
  height: number;
  frame: Frame;
  xDomain: [number, number];
  yDomain: [number, number];
  xTicks: number[];
  yTicks: number[];
  xStep: number;
  labelled: number[];
  tickFont: number;
  xBaseline: number;
  yRight: number;
  children: React.ReactNode;
}

function Panel(p: PanelProps) {
  const f = p.frame;
  return (
    <div style={{ position: "absolute", left: p.left, top: p.top }}>
      <ComposedChart
        width={p.width}
        height={p.height}
        margin={{ top: f.t, right: p.width - f.r, bottom: 0, left: 0 }}
      >
        <XAxis
          type="number"
          dataKey="x"
          domain={p.xDomain}
          ticks={p.xTicks}
          interval={0}
          allowDataOverflow
          height={p.height - f.b}
          axisLine={false}
          tickLine={false}
          tick={makeXTick(f, p.xStep, p.tickFont, p.xBaseline)}
        />
        <YAxis
          type="number"
          dataKey="y"
          domain={p.yDomain}
          ticks={p.yTicks}
          interval={0}
          allowDataOverflow
          width={f.l}
          axisLine={false}
          tickLine={false}
          tick={makeYTick(f, p.tickFont, p.yRight, p.labelled)}
        />
        {p.children}
        <ReferenceArea
          x1={p.xDomain[0]}
          x2={p.xDomain[1]}
          y1={p.yDomain[0]}
          y2={p.yDomain[1]}
          fill="none"
          fillOpacity={0}
          stroke="#222"
          strokeWidth={1.3}
          ifOverflow="visible"
        />
      </ComposedChart>
    </div>
  );
}

function Text({ x, y, size, children, center }: { x: number; y: number; size: number; children: React.ReactNode; center?: boolean }) {
  return (
    <div
      style={{
        position: "absolute",
        left: x,
        top: y,
        fontFamily: FONT,
        fontSize: size,
        lineHeight: 1,
        whiteSpace: "nowrap",
        color: "#111",
        transform: center ? "translateX(-50%)" : undefined,
      }}
    >
      {children}
    </div>
  );
}

function VText({ cx, cy, size, children }: { cx: number; cy: number; size: number; children: React.ReactNode }) {
  return (
    <div
      style={{
        position: "absolute",
        left: cx,
        top: cy,
        fontFamily: FONT,
        fontSize: size,
        lineHeight: 1,
        whiteSpace: "nowrap",
        color: "#111",
        transform: "translate(-50%, -50%) rotate(-90deg)",
      }}
    >
      {children}
    </div>
  );
}

const dotted = { strokeDasharray: "2 1.3", strokeWidth: 1.3 };

export default function App() {
  const aFrame = { l: 87, r: 555, t: 44, b: 403 };
  const bFrame = { l: 90, r: 548, t: 40, b: 392 };
  const cFrame = { l: 87, r: 555, t: 54, b: 414 };
  const dFrame = { l: 90, r: 548, t: 57, b: 411 };

  return (
    <div style={{ position: "absolute", left: 0, top: 0, width: 1132, height: 958, background: "#fff" }}>
      <Panel
        left={0} top={0} width={566} height={480} frame={aFrame}
        xDomain={[-100, 1000]} yDomain={[12, 17]} xTicks={aXTicks} yTicks={aYTicks}
        xStep={200} labelled={[12, 13, 14, 15, 16, 17]} tickFont={18.5} xBaseline={425} yRight={80}
      >
        <Scatter data={toPoints(aPitch)} dataKey="y" shape={ring(2.3)} isAnimationActive={false} />
        <ReferenceLine y={aMean} stroke="#111" strokeDasharray="2 2" strokeWidth={1} />
        <Line data={toLine(aUpper)} dataKey="y" type="linear" dot={false} stroke={RED} {...dotted} isAnimationActive={false} />
        <Line data={toLine(aLower)} dataKey="y" type="linear" dot={false} stroke={RED} {...dotted} isAnimationActive={false} />
        <Line data={toLine(aAverage)} dataKey="y" type="linear" dot={false} stroke={BLUE} strokeWidth={1.4} isAnimationActive={false} />
      </Panel>

      <Panel
        left={566} top={0} width={566} height={480} frame={bFrame}
        xDomain={[-30, 410]} yDomain={[12.5, 18.75]} xTicks={bXTicks} yTicks={bYTicks}
        xStep={100} labelled={[13, 14, 15, 16, 17, 18]} tickFont={20} xBaseline={417} yRight={82}
      >
        <Scatter data={toPoints(bPitch)} dataKey="y" shape={ring(2.3)} isAnimationActive={false} />
        <ReferenceLine segment={[{ x: -30, y: bMean }, { x: 400, y: bMean }]} stroke="#111" strokeDasharray="2 2" strokeWidth={1} />
        <Line data={toLine(bUpper)} dataKey="y" type="linear" dot={false} stroke={RED} {...dotted} isAnimationActive={false} />
        <Line data={toLine(bLower)} dataKey="y" type="linear" dot={false} stroke={RED} {...dotted} isAnimationActive={false} />
        <Line data={toLine(bAverage)} dataKey="y" type="linear" dot={false} stroke={BLUE} strokeWidth={1.4} isAnimationActive={false} />
      </Panel>

      <Panel
        left={0} top={480} width={566} height={478} frame={cFrame}
        xDomain={[-100, 1000]} yDomain={[-2.5, 2.5]} xTicks={aXTicks} yTicks={cYTicks}
        xStep={200} labelled={[-2, -1, 0, 1, 2]} tickFont={19.5} xBaseline={438} yRight={81.5}
      >
        <Scatter data={toPoints(cSpread)} dataKey="y" shape={ring(2)} isAnimationActive={false} />
        <ReferenceLine segment={[{ x: 0, y: 0 }, { x: 904, y: 0 }]} stroke="#5a6ae6" strokeWidth={1.3} />
        <ReferenceLine y={cBand} stroke={RED} strokeDasharray="5 3" strokeWidth={1.4} />
        <ReferenceLine y={-cBand} stroke={RED} strokeDasharray="5 3" strokeWidth={1.4} />
      </Panel>

      <Panel
        left={566} top={480} width={566} height={478} frame={dFrame}
        xDomain={[-30, 420]} yDomain={[-2.5, 2.5]} xTicks={bXTicks} yTicks={cYTicks}
        xStep={100} labelled={[-2, -1, 0, 1, 2]} tickFont={20.5} xBaseline={438} yRight={84.5}
      >
        <Scatter data={toPoints(dSpread)} dataKey="y" shape={ring(2)} isAnimationActive={false} />
        <ReferenceLine segment={[{ x: 0, y: 0 }, { x: 369, y: 0 }]} stroke="#4a5ae0" strokeWidth={1.3} />
        <ReferenceLine y={dBand} stroke={RED} strokeDasharray="5 3" strokeWidth={1.4} />
        <ReferenceLine y={-dBand} stroke={RED} strokeDasharray="5 3" strokeWidth={1.4} />
      </Panel>

      <Text x={11} y={12} size={24}>a)</Text>
      <Text x={578} y={12} size={24}>b)</Text>
      <Text x={11} y={503} size={24}>c)</Text>
      <Text x={576} y={505} size={24}>d)</Text>

      <Text x={321} y={438} size={24} center>Arbitrary Sample Number</Text>
      <Text x={885} y={428} size={26} center>Arbitrary Sample Number</Text>
      <Text x={321} y={924} size={24} center>Arbitrary Sample Number</Text>
      <Text x={891} y={930} size={24} center>Arbitrary Sample Number</Text>

      <VText cx={38} cy={228} size={25}>Twist Pitch (mm)</VText>
      <VText cx={599} cy={233} size={26}>Twist Pitch (mm)</VText>
      <VText cx={41} cy={716} size={24.4}>Spread in Twist Pitch (mm)</VText>
      <VText cx={607} cy={717} size={24}>Spread in Twist Pitch (mm)</VText>
    </div>
  );
}
